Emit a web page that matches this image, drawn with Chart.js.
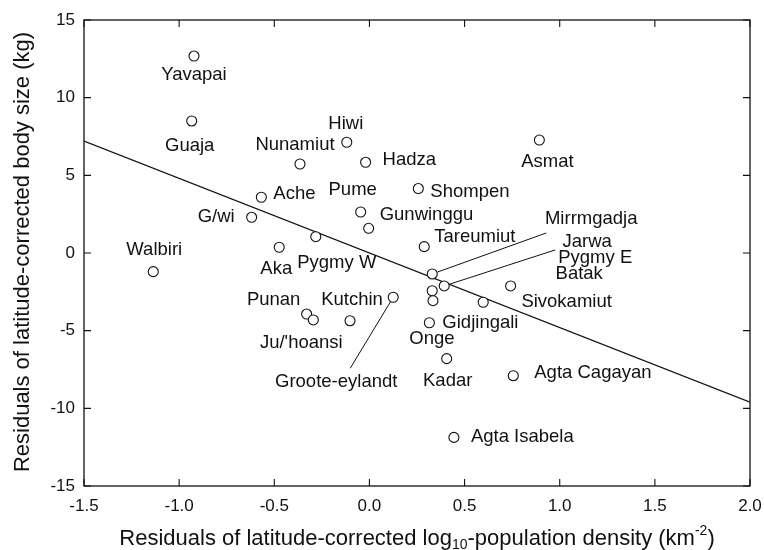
<!DOCTYPE html>
<html>
<head>
<meta charset="utf-8">
<script src="https://cdn.jsdelivr.net/npm/chart.js@4.4.1/dist/chart.umd.min.js"></script>
<style>
  html, body { margin: 0; padding: 0; background: #fff; }
  canvas { display: block; }
</style>
</head>
<body>
<canvas id="chart" width="764" height="550"></canvas>
<script>
// groups and their residuals
const groups = ['Yavapai', 'Guaja', 'Hiwi', 'Nunamiut', 'Hadza', 'Asmat', 'Ache', 'Gunwinggu', 'Pume', 'Shompen',
	'G/wi', 'Walbiri', 'Aka', 'Pygmy W', 'Tareumiut', 'Mirrmgadja', 'Jarwa', 'Pygmy E', 'Batak', 'Onge',
	'Sivokamiut', 'Punan', "Ju/'hoansi", 'Kutchin', 'Groote-eylandt', 'Gidjingali', 'Kadar', 'Agta Cagayan', 'Agta Isabela'];
const densityResid = [-0.922, -0.934, -0.119, -0.365, -0.020, 0.893, -0.568, -0.046, -0.004, 0.257,
	-0.619, -1.136, -0.474, -0.282, 0.288, 0.330, 0.393, 0.330, 0.598, 0.334,
	0.742, -0.330, -0.295, -0.102, 0.125, 0.315, 0.406, 0.756, 0.444];
const sizeResid = [12.68, 8.50, 7.13, 5.73, 5.84, 7.27, 3.59, 2.64, 1.59, 4.15,
	2.30, -1.20, 0.37, 1.05, 0.41, -1.35, -2.12, -2.43, -3.17, -3.07,
	-2.12, -3.93, -4.31, -4.36, -2.85, -4.49, -6.80, -7.90, -11.87];

// regression line
const fitX = [-1.5, 2.0];
const fitY = [7.2, -9.6];

const xTicks = [-1.5, -1.0, -0.5, 0.0, 0.5, 1.0, 1.5, 2.0];
const yTicks = [-15, -10, -5, 0, 5, 10, 15];

// label placement (px from the marker): dx, dy, align
const labelPlace = [
	[0, 19, 'center'], [-2, 25, 'center'], [-1, -18, 'center'], [-5, -19, 'center'], [17, -2, 'left'],
	[8, 22, 'center'], [12, -3, 'left'], [19, 3, 'left'], [-16, -38, 'center'], [12, 3, 'left'],
	[-17, 0, 'right'], [1, -22, 'center'], [-3, 22, 'center'], [21, 26, 'center'], [10, -10, 'left'],
	[159, -55, 'center'], [143, -44, 'center'], [163, -33, 'center'], [96, -28, 'center'], [-1, 38, 'center'],
	[56, 16, 'center'], [-33, -14, 'center'], [-12, 23, 'center'], [2, -21, 'center'], [-57, 85, 'center'],
	[13, 0, 'left'], [1, 22, 'center'], [21, -3, 'left'], [17, 0, 'left']
];
const leaders = { 'Mirrmgadja': [114, -41], 'Jarwa': [111, -36], 'Groote-eylandt': [-43, 71] };

const FONT = '"Liberation Sans", Arial, Helvetica, sans-serif';
const INK = '#111';

const framePlugin = {
	id: 'frame',
	afterDraw(chart) {
		const { ctx, chartArea: a, scales } = chart;
		ctx.save();
		ctx.strokeStyle = INK;
		ctx.lineWidth = 1.3;
		ctx.strokeRect(a.left, a.top, a.right - a.left, a.bottom - a.top);
		ctx.lineWidth = 1.1;
		const t = 7;
		ctx.beginPath();
		scales.x.ticks.forEach(tk => {
			const px = scales.x.getPixelForValue(tk.value);
			ctx.moveTo(px, a.bottom); ctx.lineTo(px, a.bottom - t);
			ctx.moveTo(px, a.top); ctx.lineTo(px, a.top + t);
		});
		scales.y.ticks.forEach(tk => {
			const py = scales.y.getPixelForValue(tk.value);
			ctx.moveTo(a.left, py); ctx.lineTo(a.left + t, py);
			ctx.moveTo(a.right, py); ctx.lineTo(a.right - t, py);
		});
		ctx.stroke();

		// axis titles
		ctx.fillStyle = INK;
		ctx.textBaseline = 'middle';
		const big = '22px ' + FONT, small = '14px ' + FONT;
		const parts = [
			['Residuals of latitude-corrected log', big, 0],
			['10', small, 6],
			['-population density (km', big, 0],
			['-2', small, -8],
			[')', big, 0]
		];
		let w = 0;
		parts.forEach(p => { ctx.font = p[1]; w += ctx.measureText(p[0]).width; });
		let x = (a.left + a.right) / 2 - w / 2;
		const ty = 539;
		ctx.textAlign = 'left';
		parts.forEach(p => {
			ctx.font = p[1];
			ctx.fillText(p[0], x, ty + p[2]);
			x += ctx.measureText(p[0]).width;
		});
		ctx.save();
		ctx.translate(23, 252);
		ctx.rotate(-Math.PI / 2);
		ctx.font = big;
		ctx.textAlign = 'center';
		ctx.fillText('Residuals of latitude-corrected body size (kg)', 0, 0);
		ctx.restore();
		ctx.restore();
	}
};

const labelPlugin = {
	id: 'pointLabels',
	afterDatasetsDraw(chart) {
		const { ctx } = chart;
		const meta = chart.getDatasetMeta(1);
		ctx.save();
		ctx.font = '18.5px ' + FONT;
		ctx.fillStyle = INK;
		ctx.strokeStyle = INK;
		ctx.lineWidth = 1;
		ctx.textBaseline = 'middle';
		meta.data.forEach((pt, i) => {
			const [dx, dy, align] = labelPlace[i];
			ctx.textAlign = align;
			ctx.fillText(groups[i], pt.x + dx, pt.y + dy);
			const ld = leaders[groups[i]];
			if (ld) {
				const len = Math.hypot(ld[0], ld[1]);
				const r = 5.5;
				ctx.beginPath();
				ctx.moveTo(pt.x + ld[0] / len * r, pt.y + ld[1] / len * r);
				ctx.lineTo(pt.x + ld[0], pt.y + ld[1]);
				ctx.stroke();
			}
		});
		ctx.restore();
	}
};

new Chart(document.getElementById('chart').getContext('2d'), {
	type: 'scatter',
	data: {
		datasets: [
			{
				type: 'line',
				data: fitX.map((x, i) => ({ x, y: fitY[i] })),
				borderColor: INK,
				borderWidth: 1.3,
				pointRadius: 0,
				fill: false,
				order: 2
			},
			{
				data: densityResid.map((x, i) => ({ x, y: sizeResid[i] })),
				pointStyle: 'circle',
				pointRadius: 5,
				borderWidth: 1.1,
				borderColor: INK,
				backgroundColor: '#fff',
				order: 1
			}
		]
	},
	options: {
		responsive: false,
		animation: false,
		events: [],
		layout: { padding: { left: 0, right: 14, top: 20, bottom: 0 } },
		plugins: { legend: { display: false }, tooltip: { enabled: false } },
		scales: {
			x: {
				type: 'linear',
				min: -1.5,
				max: 2.0,
				afterBuildTicks: s => { s.ticks = xTicks.map(v => ({ value: v })); },
				afterFit: s => { s.height = 64; s.paddingLeft = 0; s.paddingRight = 0; },
				grid: { display: false, drawTicks: false },
				border: { display: false },
				ticks: {
					color: INK,
					font: { family: FONT, size: 17 },
					padding: 10,
					maxRotation: 0,
					callback: v => v.toFixed(1)
				}
			},
			y: {
				type: 'linear',
				min: -15,
				max: 15,
				afterBuildTicks: s => { s.ticks = yTicks.map(v => ({ value: v })); },
				afterFit: s => { s.width = 84; s.paddingTop = 0; s.paddingBottom = 0; },
				grid: { display: false, drawTicks: false },
				border: { display: false },
				ticks: {
					color: INK,
					font: { family: FONT, size: 17 },
					padding: 9,
					callback: v => String(v)
				}
			}
		}
	},
	plugins: [framePlugin, labelPlugin]
});
</script>
</body>
</html>
